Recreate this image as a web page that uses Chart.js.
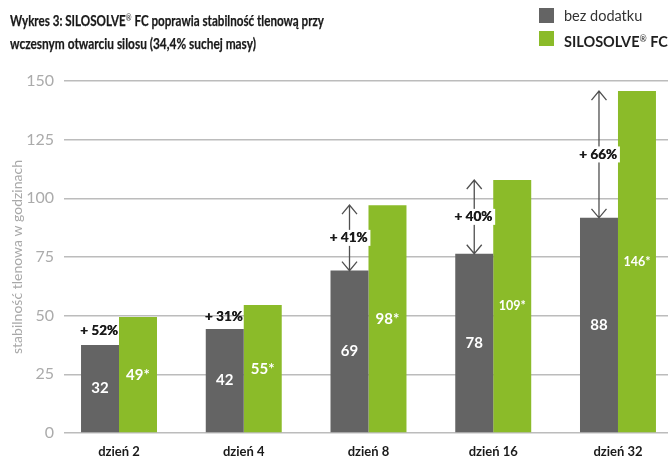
<!DOCTYPE html>
<html>
<head>
<meta charset="utf-8">
<script src="https://cdn.jsdelivr.net/npm/chart.js@4/dist/chart.umd.min.js"></script>
<style>
  html, body { margin: 0; padding: 0; background: #fff; }
  #wrap { position: relative; width: 670px; height: 461px; overflow: hidden; }
  #chart { position: absolute; left: 0; top: 0; }
  .tline { position: absolute; left: 10px; font-family: Lato, sans-serif; font-weight: bold; font-size: 15px; color: #1a1a1a; white-space: nowrap; transform-origin: 0 50%; line-height: 18px; -webkit-text-stroke: 0.25px #1a1a1a; }
  .reg { font-size: 60%; vertical-align: 0.55em; font-weight: normal; -webkit-text-stroke: 0; }
  .lg { position: absolute; left: 539px; font-family: Lato, sans-serif; font-size: 14.5px; color: #333; white-space: nowrap; line-height: 15px; }
  .lg .sw { display: inline-block; width: 15px; height: 15px; vertical-align: top; margin-right: 10px; }
</style>
</head>
<body>
<div id="wrap">
  <canvas id="chart" width="670" height="461"></canvas>
  <div class="tline" id="t1" style="top:9px">Wykres 3: SILOSOLVE<span class="reg">®</span> FC poprawia stabilność tlenową przy</div>
  <div class="tline" id="t2" style="top:34px">wczesnym otwarciu silosu (34,4% suchej masy)</div>
  <div id="legend"></div>
</div>
<script>
// ---- data ----
const categories = ['dzień 2', 'dzień 4', 'dzień 8', 'dzień 16', 'dzień 32'];
const seriesNames = ['bez dodatku', 'SILOSOLVE® FC'];
const controlValues = [37.5, 44.3, 69.2, 76.4, 91.7];
const silosolveValues = [49.4, 54.5, 97.1, 107.8, 145.7];
const controlLabels = ['32', '42', '69', '78', '88'];
const silosolveLabels = ['49*', '55*', '98*', '109*', '146*'];
const increaseLabels = ['+ 52%', '+ 31%', '+ 41%', '+ 40%', '+ 66%'];
const showArrow = [false, false, true, true, true];
const yTicks = [0, 25, 50, 75, 100, 125, 150];
const yTitle = 'stabilność tlenowa w godzinach';

const colors = ['#646464', '#8bbb29'];

// legend (HTML)
const lg = document.getElementById('legend');
seriesNames.forEach((n, i) => {
  const d = document.createElement('div');
  d.className = 'lg';
  d.style.top = (8 + i * 23) + 'px';
  const sw = document.createElement('span');
  sw.className = 'sw';
  sw.style.background = colors[i];
  d.appendChild(sw);
  const t = document.createElement('span');
  if (i === 1) {
    t.style.fontWeight = 'bold';
    t.style.color = '#1f1f1f';
    t.innerHTML = n.replace('®', '<span class="reg">®</span>');
  } else {
    t.textContent = n;
  }
  d.appendChild(t);
  lg.appendChild(d);
});

// fit title lines to reference widths
[['t1', 314], ['t2', 246]].forEach(([id, w]) => {
  const el = document.getElementById(id);
  const actual = el.getBoundingClientRect().width;
  el.style.transform = 'scaleX(' + (w / actual) + ')';
});

const annotations = {
  id: 'annotations',
  afterDatasetsDraw(chart) {
    const ctx = chart.ctx;
    const m0 = chart.getDatasetMeta(0).data;
    const m1 = chart.getDatasetMeta(1).data;
    ctx.save();
    ctx.textAlign = 'center';
    ctx.textBaseline = 'middle';
    // value labels inside bars
    m0.forEach((b, i) => {
      ctx.fillStyle = '#ffffff';
      ctx.font = 'bold 15px Lato';
      ctx.fillText(controlLabels[i], b.x, (b.y + b.base) / 2);
      const g = m1[i];
      ctx.font = (silosolveLabels[i].length > 3 ? 'bold 12.5px Lato' : 'bold 15px Lato');
      ctx.fillText(silosolveLabels[i], g.x, (g.y + g.base) / 2);
    });
    // arrows and increase labels
    m0.forEach((b, i) => {
      const g = m1[i];
      const x = b.x;
      const yBot = b.y;
      const yTop = g.y;
      const mid = (yBot + yTop) / 2;
      ctx.font = 'bold 13.5px Lato';
      if (showArrow[i]) {
        ctx.strokeStyle = '#505050';
        ctx.lineWidth = 1.3;
        ctx.beginPath();
        ctx.moveTo(x, yTop); ctx.lineTo(x, yBot);
        ctx.moveTo(x - 7.5, yTop + 9); ctx.lineTo(x, yTop); ctx.lineTo(x + 7.5, yTop + 9);
        ctx.moveTo(x - 7.5, yBot - 9); ctx.lineTo(x, yBot); ctx.lineTo(x + 7.5, yBot - 9);
        ctx.stroke();
        const w = ctx.measureText(increaseLabels[i]).width;
        ctx.fillStyle = '#ffffff';
        ctx.fillRect(x - w / 2 - 2, mid - 8, w + 4, 16);
      }
      ctx.fillStyle = '#1a1a1a';
      ctx.fillText(increaseLabels[i], x - 1, mid);
      ctx.fillText(increaseLabels[i], x - 0.6, mid);
    });
    ctx.restore();
  }
};

new Chart(document.getElementById('chart'), {
  type: 'bar',
  data: {
    datasets: [
      { label: seriesNames[0], data: controlValues.map((v, i) => ({ x: i + 1, y: v })), backgroundColor: colors[0] },
      { label: seriesNames[1], data: silosolveValues.map((v, i) => ({ x: i + 1, y: v })), backgroundColor: colors[1] }
    ]
  },
  options: {
    responsive: false,
    animation: false,
    devicePixelRatio: 1,
    categoryPercentage: 0.609,
    barPercentage: 1,
    layout: { padding: { top: 81, right: 2, left: 0, bottom: 0 } },
    plugins: { legend: { display: false }, tooltip: { enabled: false }, title: { display: false } },
    scales: {
      x: {
        type: 'linear',
        offset: false,
        bounds: 'data',
        min: 0.559,
        max: 5.401,
        grid: { display: false, drawTicks: false },
        border: { display: false },
        afterBuildTicks: (s) => { s.ticks = categories.map((c, i) => ({ value: i + 1 })); },
        afterFit: (s) => { s.height = 28; },
        ticks: {
          autoSkip: false,
          maxRotation: 0,
          padding: 11,
          color: '#1a1a1a',
          font: { family: 'Lato', size: 13, weight: 'bold' },
          callback: (v) => categories[Math.round(v) - 1] || ''
        }
      },
      y: {
        min: 0,
        max: 150,
        afterBuildTicks: (s) => { s.ticks = yTicks.map(v => ({ value: v })); },
        afterFit: (s) => { s.width = 64; },
        grid: { color: '#bcbcbc', lineWidth: 1.5, drawTicks: false },
        border: { display: false },
        ticks: {
          padding: 10,
          color: '#ababab',
          font: { family: 'Lato', size: 16 }
        },
        title: {
          display: true,
          text: yTitle,
          color: '#a8a8a8',
          font: { family: 'Lato', size: 14 },
          padding: { top: 9, bottom: 0 }
        }
      }
    }
  },
  plugins: [annotations]
});
</script>
</body>
</html>
